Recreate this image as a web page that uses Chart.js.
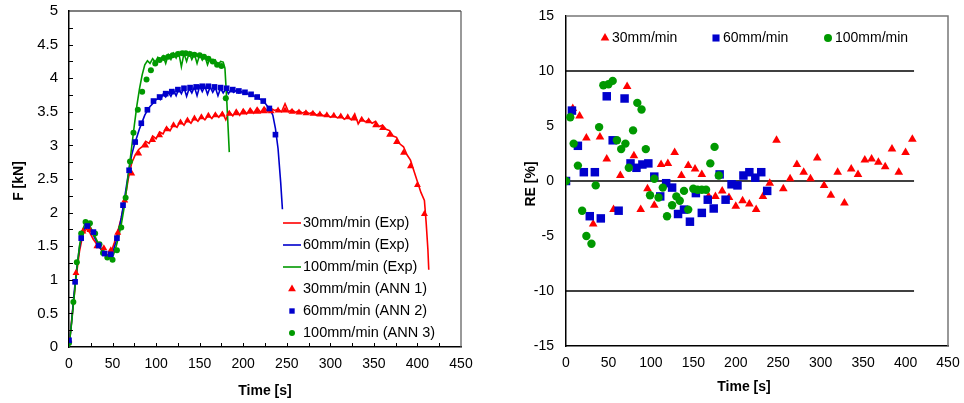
<!DOCTYPE html>
<html>
<head>
<meta charset="utf-8">
<script src="https://cdn.jsdelivr.net/npm/chart.js@4.4.1/dist/chart.umd.min.js"></script>
<style>
    body { margin: 0; background: #fff; width: 964px; height: 403px; overflow: hidden; position: relative; }
    #left { position: absolute; left: 0; top: 0; }
    #right { position: absolute; left: 480px; top: 0; }
</style>
</head>
<body>
<canvas id="left" width="480" height="403"></canvas>
<canvas id="right" width="484" height="403"></canvas>
<script>
// Experimental curves (time [s], force [kN])
const expT30 = [0,4,8,12,16,20,24,28,32,36,40,44,48,52,56,60,64,68,72,76,80,84,88,92,96,100,104,108,112,116,120,124,128,132,136,140,144,148,152,156,160,164,168,172,176,180,184,188,192,196,200,204,208,212,216,220,224,228,232,236,240,244,248,252,256,260,264,268,272,276,280,284,288,292,296,300,304,308,312,316,320,324,328,332,336,340,344,348,352,356,360,364,368,372,376,380,384,388,392,396,400,404,408,410,412,413];
const expF30 = [0.00,0.52,1.02,1.42,1.68,1.76,1.70,1.60,1.53,1.47,
    1.41,1.37,1.40,1.55,1.72,1.92,2.18,2.50,2.74,2.86,
    2.94,2.98,3.06,3.03,3.14,3.10,3.20,3.17,3.27,3.22,
    3.31,3.27,3.36,3.30,3.38,3.33,3.41,3.36,3.43,3.38,
    3.45,3.40,3.47,3.42,3.49,3.38,3.50,3.44,3.53,3.45,
    3.54,3.47,3.55,3.48,3.56,3.49,3.57,3.50,3.55,3.52,
    3.54,3.50,3.62,3.50,3.53,3.49,3.52,3.48,3.51,3.47,
    3.50,3.45,3.48,3.44,3.46,3.42,3.45,3.41,3.44,3.39,
    3.42,3.38,3.47,3.32,3.40,3.35,3.38,3.33,3.36,3.28,
    3.30,3.24,3.22,3.14,3.12,3.02,2.98,2.86,2.78,2.62,
    2.46,2.30,2.18,1.85,1.45,1.15];

const expT60 = [0,3,6,9,12,15,18,21,24,27,30,33,36,39,42,45,48,51,54,57,60,63,66,69,72,75,78,81,84,87,90,93,96,99,102,105,108,111,114,117,120,123,126,129,132,135,138,141,144,147,150,153,156,159,162,165,168,171,174,177,180,183,186,189,192,195,198,201,204,207,210,213,216,219,222,225,228,231,234,237,240,243,245];
const expF60 = [0.00,0.38,0.82,1.18,1.48,1.67,1.77,1.79,1.75,1.69,
    1.61,1.54,1.47,1.41,1.37,1.35,1.36,1.44,1.57,1.72,
    1.92,2.15,2.40,2.65,2.86,3.01,3.13,3.25,3.35,3.45,
    3.52,3.58,3.62,3.67,3.70,3.68,3.76,3.72,3.79,3.73,
    3.82,3.74,3.84,3.77,3.86,3.73,3.85,3.78,3.87,3.74,
    3.88,3.80,3.88,3.76,3.87,3.79,3.86,3.74,3.85,3.78,
    3.84,3.77,3.83,3.79,3.82,3.78,3.80,3.77,3.78,3.75,
    3.76,3.73,3.72,3.69,3.67,3.63,3.58,3.53,3.45,3.25,
    2.95,2.45,2.05];

const expT100 = [0,3,6,9,12,15,18,21,24,27,30,33,36,39,42,45,48,51,54,57,60,63,66,69,72,75,78,81,84,87,90,93,96,99,102,105,108,111,114,117,120,123,126,129,132,135,138,141,144,147,150,153,156,159,162,165,168,171,174,177,179,181,184];
const expF100 = [0.00,0.36,0.76,1.16,1.50,1.72,1.82,1.84,1.80,1.72,
    1.64,1.56,1.48,1.42,1.37,1.34,1.33,1.37,1.49,1.64,
    1.82,2.05,2.35,2.66,2.98,3.30,3.60,3.85,4.05,4.20,
    4.26,4.22,4.29,4.24,4.31,4.27,4.33,4.22,4.35,4.28,
    4.37,4.30,4.38,4.17,4.37,4.25,4.38,4.28,4.36,4.22,
    4.35,4.27,4.33,4.20,4.30,4.23,4.27,4.19,4.25,
    4.24,4.15,3.70,2.90];

// ANN predictions: sample times, force [kN] and relative error [%]
const annT30 = [0,8,16,24,32,40,48,56,64,72,80,88,96,104,112,120,128,136,144,152,160,168,176,184,192,200,208,216,224,232,240,248,256,264,272,280,288,296,304,312,320,328,336,344,352,360,368,376,384,392,400,408];
const annF30 = [0.10,1.10,1.72,1.74,1.50,1.47,1.44,1.70,2.18,2.58,2.88,3.00,3.08,3.15,3.24,3.30,3.34,3.37,3.40,3.42,3.44,3.45,3.46,3.47,3.48,3.49,3.50,3.50,3.51,3.51,3.52,3.52,3.50,3.49,3.48,3.47,3.46,3.45,3.44,3.43,3.42,3.40,3.38,3.36,3.30,3.26,3.16,3.05,2.89,2.69,2.41,1.98];
const re30 = [0,6.6,5.9,3.9,-3.9,4.0,2.0,-2.6,0.5,8.6,2.3,-2.6,-0.7,-2.2,1.5,1.6,2.6,0.5,1.4,1.1,0.6,-1.4,-1.4,-0.9,-1.5,-2.3,-1.8,-2.1,-2.6,-1.4,-0.2,3.7,-0.7,0.2,1.5,0.8,0.2,2.1,-0.4,-1.3,0.8,-2.0,1.1,0.6,1.9,2.0,1.7,1.3,2.9,0.8,2.6,3.8];

const annT60 = [0,7,14,21,28,34,41,48,55,62,69,76,83,90,97,104,111,118,125,132,139,146,153,160,167,174,181,188,195,202,209,216,223,230,237];
const annF60 = [0.10,0.97,1.62,1.80,1.71,1.51,1.39,1.38,1.62,2.11,2.63,3.05,3.33,3.53,3.66,3.72,3.77,3.80,3.83,3.85,3.86,3.87,3.88,3.88,3.87,3.86,3.85,3.83,3.81,3.79,3.76,3.72,3.66,3.55,3.16];
const re60 = [0,6.4,3.2,0.8,-3.2,0.8,-3.4,7.7,3.7,-2.7,7.5,1.6,1.2,1.5,1.6,0.4,-1.4,-0.2,-0.6,-3.0,-2.6,-3.7,-1.1,-2.9,-1.7,-2.5,0.6,-1.7,-0.3,-0.4,0.5,0.8,0.3,0.8,-0.9];

const annT100 = [0,5,9,14,19,24,30,35,39,44,50,55,60,65,70,74,79,84,89,94,99,104,109,114,119,125,130,134,139,144,150,155,160,165,170,175,180];
const annF100 = [0.06,0.67,1.26,1.69,1.86,1.84,1.69,1.53,1.40,1.33,1.30,1.44,1.78,2.22,2.76,3.19,3.53,3.80,3.98,4.12,4.22,4.27,4.30,4.32,4.34,4.36,4.37,4.37,4.36,4.35,4.34,4.32,4.29,4.25,4.20,4.18,3.70];
const re100 = [0,5.8,3.4,1.4,-2.7,-5.0,-5.7,-0.4,4.9,8.7,8.8,9.1,3.7,2.9,3.4,1.2,4.6,7.1,6.5,2.9,-1.3,0.2,-1.5,-0.6,-3.2,-2.2,-1.4,-1.8,-0.9,-2.6,-0.7,-0.8,-0.8,-0.8,1.6,3.1,0.5];

// reference lines on the RE chart
const refLevels = [10, 0, -10];
const refSpan = [0, 410];

const RED = '#ff0000', BLUE = '#0000cc', GREEN = '#009900';
const FONT = "'Liberation Sans', Arial, sans-serif";

Chart.defaults.font.family = FONT;
Chart.defaults.color = '#000';

const toXY = (xs, ys) => xs.map((x, i) => ({ x: x, y: ys[i] }));

function mark(ctx, style, x, y, r, color) {
    ctx.save();
    ctx.fillStyle = color;
    ctx.beginPath();
    if (style === 'triangle') {
        ctx.moveTo(x, y - r);
        ctx.lineTo(x + r * 0.866, y + r * 0.5);
        ctx.lineTo(x - r * 0.866, y + r * 0.5);
        ctx.closePath();
    } else if (style === 'rect') {
        const s = r * Math.SQRT2;
        ctx.rect(x - s / 2, y - s / 2, s, s);
    } else {
        ctx.arc(x, y, r, 0, Math.PI * 2);
    }
    ctx.fill();
    ctx.restore();
}

function lineSet(label, xs, ys, color, order) {
    return { label, data: toXY(xs, ys), showLine: true, borderColor: color, borderWidth: 1.6,
        pointRadius: 0, fill: false, tension: 0, order };
}
function pointSet(label, xs, ys, color, style, r, order) {
    return { label, data: toXY(xs, ys), showLine: false, pointStyle: style, pointRadius: r,
        backgroundColor: color, borderWidth: 0, order };
}

function axisOpts(min, max, step, size, pad, fit) {
    return {
        type: 'linear', min, max,
        grid: { display: false, drawTicks: false },
        border: { display: true, color: '#000', width: 1.5 },
        ticks: { stepSize: step, padding: pad, font: { size: size }, color: '#000',
            callback: v => String(v) },
        afterFit: s => {
            // keep the plot box fixed: no extra room for the end labels
            s.paddingLeft = 0; s.paddingRight = 0;
            s.paddingTop = 0; s.paddingBottom = 0;
            fit(s);
        }
    };
}

// ---- left chart: force vs time ----
const leftLegend = [
    { kind: 'line', color: RED, text: '30mm/min (Exp)' },
    { kind: 'line', color: BLUE, text: '60mm/min (Exp)' },
    { kind: 'line', color: GREEN, text: '100mm/min (Exp)' },
    { kind: 'triangle', color: RED, text: '30mm/min (ANN 1)', r: 4.5 },
    { kind: 'rect', color: BLUE, text: '60mm/min (ANN 2)', r: 3.8 },
    { kind: 'circle', color: GREEN, text: '100mm/min (ANN 3)', r: 3 }
];

const leftDecor = {
    id: 'leftDecor',
    afterDraw(chart) {
        const ctx = chart.ctx, a = chart.chartArea;
        const xs = chart.scales.x, ys = chart.scales.y;
        ctx.save();
        // frame
        ctx.strokeStyle = '#000';
        ctx.lineWidth = 1.2;
        ctx.beginPath(); ctx.moveTo(a.left, a.top); ctx.lineTo(a.right, a.top); ctx.stroke();
        ctx.strokeStyle = '#555';
        ctx.beginPath(); ctx.moveTo(a.right, a.top); ctx.lineTo(a.right, a.bottom); ctx.stroke();
        // inward ticks
        ctx.strokeStyle = '#000';
        ctx.lineWidth = 1;
        for (let v = 0.25; v < 5; v += 0.25) {
            const y = Math.round(ys.getPixelForValue(v)) + 0.5;
            ctx.beginPath(); ctx.moveTo(a.left, y); ctx.lineTo(a.left + 4, y); ctx.stroke();
        }
        for (let v = 25; v < 450; v += 25) {
            const x = Math.round(xs.getPixelForValue(v)) + 0.5;
            ctx.beginPath(); ctx.moveTo(x, a.bottom); ctx.lineTo(x, a.bottom - 4); ctx.stroke();
        }
        // titles
        ctx.fillStyle = '#000';
        ctx.font = 'bold 14px ' + FONT;
        ctx.textAlign = 'center';
        ctx.textBaseline = 'middle';
        ctx.fillText('Time [s]', 265, 391);
        ctx.translate(19, 181);
        ctx.rotate(-Math.PI / 2);
        ctx.fillText('F [kN]', 0, 0);
        ctx.restore();
        // legend
        ctx.save();
        ctx.font = '14.5px ' + FONT;
        ctx.textAlign = 'left';
        ctx.textBaseline = 'middle';
        leftLegend.forEach((it, i) => {
            const y = 223 + i * 22;
            if (it.kind === 'line') {
                ctx.strokeStyle = it.color;
                ctx.lineWidth = 1.6;
                ctx.beginPath(); ctx.moveTo(283, y); ctx.lineTo(301, y); ctx.stroke();
            } else {
                mark(ctx, it.kind, 292, y, it.r, it.color);
            }
            ctx.fillStyle = '#000';
            ctx.fillText(it.text, 303, y);
        });
        ctx.restore();
    }
};

new Chart(document.getElementById('left'), {
    type: 'scatter',
    data: {
        datasets: [
            pointSet('60mm/min (ANN 2)', annT60, annF60, BLUE, 'rect', 4, 0),
            pointSet('100mm/min (ANN 3)', annT100, annF100, GREEN, 'circle', 3, 1),
            pointSet('30mm/min (ANN 1)', annT30, annF30, RED, 'triangle', 4, 2),
            lineSet('100mm/min (Exp)', expT100, expF100, GREEN, 3),
            lineSet('60mm/min (Exp)', expT60, expF60, BLUE, 4),
            lineSet('30mm/min (Exp)', expT30, expF30, RED, 5)
        ]
    },
    options: {
        responsive: false,
        animation: false,
        events: [],
        layout: { padding: { left: 0, right: 19, top: 11, bottom: 0 } },
        plugins: { legend: { display: false }, tooltip: { enabled: false } },
        scales: {
            x: axisOpts(0, 450, 50, 14, 9, s => { s.height = 56; }),
            y: axisOpts(0, 5, 0.5, 15, 11, s => { s.width = 69; })
        }
    },
    plugins: [leftDecor]
});

// ---- right chart: relative error ----
const rightLegend = [
    { kind: 'triangle', color: RED, text: '30mm/min', x: 125, r: 5 },
    { kind: 'rect', color: BLUE, text: '60mm/min', x: 236, r: 5 },
    { kind: 'circle', color: GREEN, text: '100mm/min', x: 348, r: 4 }
];

const rightDecor = {
    id: 'rightDecor',
    afterDraw(chart) {
        const ctx = chart.ctx, a = chart.chartArea;
        ctx.save();
        ctx.strokeStyle = '#777';
        ctx.lineWidth = 1.5;
        ctx.beginPath();
        ctx.moveTo(a.left, a.top); ctx.lineTo(a.right, a.top); ctx.lineTo(a.right, a.bottom);
        ctx.stroke();
        ctx.fillStyle = '#000';
        ctx.font = 'bold 14px ' + FONT;
        ctx.textAlign = 'center';
        ctx.textBaseline = 'middle';
        ctx.fillText('Time [s]', 264, 387);
        ctx.translate(51, 184);
        ctx.rotate(-Math.PI / 2);
        ctx.fillText('RE [%]', 0, 0);
        ctx.restore();
        ctx.save();
        ctx.font = '14px ' + FONT;
        ctx.textAlign = 'left';
        ctx.textBaseline = 'middle';
        rightLegend.forEach(it => {
            mark(ctx, it.kind, it.x, 38, it.r, it.color);
            ctx.fillStyle = '#000';
            ctx.fillText(it.text, it.x + 7, 38);
        });
        ctx.restore();
    }
};

const refSets = refLevels.map(v => ({
    data: refSpan.map(x => ({ x: x, y: v })),
    showLine: true, borderColor: '#000', borderWidth: 1.3, pointRadius: 0, order: 5
}));

new Chart(document.getElementById('right'), {
    type: 'scatter',
    data: {
        datasets: [
            pointSet('100mm/min', annT100, re100, GREEN, 'circle', 4.2, 0),
            pointSet('60mm/min', annT60, re60, BLUE, 'rect', 6, 1),
            pointSet('30mm/min', annT30, re30, RED, 'triangle', 5, 2),
            ...refSets
        ]
    },
    options: {
        responsive: false,
        animation: false,
        events: [],
        layout: { padding: { left: 0, right: 16, top: 16, bottom: 0 } },
        plugins: { legend: { display: false }, tooltip: { enabled: false } },
        scales: {
            x: axisOpts(0, 450, 50, 14, 9, s => { s.height = 57; }),
            y: axisOpts(-15, 15, 5, 14, 12, s => { s.width = 86; })
        }
    },
    plugins: [rightDecor]
});
</script>
</body>
</html>
